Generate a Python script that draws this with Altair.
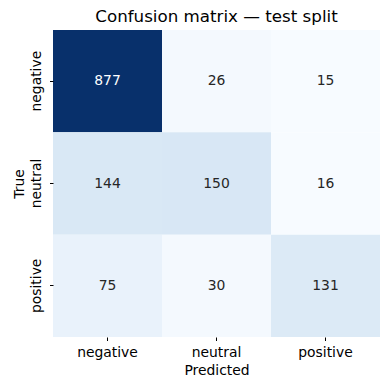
import altair as alt
import pandas as pd

labels = ["negative", "neutral", "positive"]
true_labels = ["negative", "negative", "negative",
               "neutral", "neutral", "neutral",
               "positive", "positive", "positive"]
pred_labels = ["negative", "neutral", "positive"] * 3
counts = [877, 26, 15,
          144, 150, 16,
          75, 30, 131]

df = pd.DataFrame({"True": true_labels, "Predicted": pred_labels, "count": counts})

blues = ["#f7fbff", "#deebf7", "#c6dbef", "#9ecae1", "#6baed6",
         "#4292c6", "#2171b5", "#08519c", "#08306b"]
vmin, vmax = min(counts), max(counts)
dom = [vmin + i * (vmax - vmin) / 8 for i in range(9)]

FS = 13.9

base = alt.Chart(df).encode(
    x=alt.X("Predicted:N", sort=labels,
            axis=alt.Axis(title="Predicted", labelAngle=0, domain=False,
                          tickSize=3.5, tickColor="#000", labelColor="#000",
                          labelFontSize=FS, titleFontSize=FS, titleFontWeight="normal",
                          labelPadding=5, titlePadding=4, labelFont="DejaVu Sans",
                          titleFont="DejaVu Sans", titleColor="#000")),
    y=alt.Y("True:N", sort=labels,
            axis=alt.Axis(title="True", labelAngle=-90, domain=False,
                          tickSize=3.5, tickColor="#000", labelColor="#000",
                          labelFontSize=FS, titleFontSize=FS, titleFontWeight="normal",
                          labelPadding=6, titlePadding=3, labelAlign="center",
                          labelBaseline="bottom", labelFont="DejaVu Sans",
                          titleFont="DejaVu Sans", titleColor="#000")),
)

rect = base.mark_rect(strokeWidth=0).encode(
    color=alt.Color("count:Q", scale=alt.Scale(domain=dom, range=blues), legend=None)
)

text = base.mark_text(fontSize=FS, font="DejaVu Sans").encode(
    text="count:Q",
    color=alt.condition(alt.datum.count > 500, alt.value("white"), alt.value("#262626")),
)

chart = (rect + text).properties(
    width=327, height=307,
    title=alt.TitleParams("Confusion matrix — test split", fontSize=16.7,
                          fontWeight="normal", font="DejaVu Sans", color="#000",
                          anchor="middle", offset=4.5),
    autosize=alt.AutoSizeParams(type="none"),
    padding={"left": 45, "top": 22, "right": 2, "bottom": 45},
).configure_view(stroke=None).configure_scale(bandPaddingInner=0, bandPaddingOuter=0)

chart.save("out.html", embed_options={"renderer": "svg", "actions": False})
